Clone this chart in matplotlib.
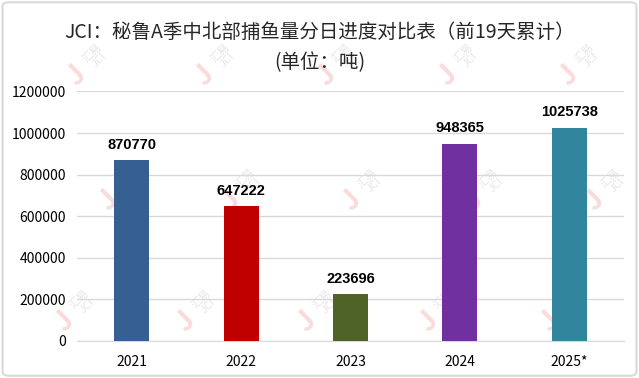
import matplotlib.pyplot as plt
from matplotlib.patches import FancyBboxPatch

plt.rcParams['font.family'] = ['Noto Sans CJK SC', 'DejaVu Sans']

years = ['2021', '2022', '2023', '2024', '2025*']
catch = [870770, 647222, 223696, 948365, 1025738]
colors = ['#376092', '#C00000', '#4F6228', '#7030A0', '#31859C']
yticks = [0, 200000, 400000, 600000, 800000, 1000000, 1200000]

fig = plt.figure(figsize=(6.39, 3.78), dpi=100)
ax = fig.add_axes([0.1205, 0.098, 0.856, 0.66])
ax.set_zorder(2)

# light frame round the whole picture
fig.patches.append(FancyBboxPatch((0.004, 0.006), 0.992, 0.988, boxstyle='round,pad=0,rounding_size=0.01',
                                  transform=fig.transFigure, fill=False, edgecolor='#D9D9D9', linewidth=1.5))

# faint watermarks
wm_pos = [(0.12, 0.80), (0.32, 0.80), (0.51, 0.80), (0.70, 0.80), (0.89, 0.80),
          (0.17, 0.47), (0.36, 0.47), (0.55, 0.47), (0.74, 0.47), (0.93, 0.47),
          (0.10, 0.15), (0.29, 0.15), (0.48, 0.15), (0.67, 0.15), (0.86, 0.15)]
for wx, wy in wm_pos:
    fig.text(wx, wy, 'J', color='#FBDADA', fontsize=20, rotation=45, ha='center', va='center',
             fontweight='bold', zorder=1)
    fig.text(wx + 0.03, wy + 0.05, '汇易\nJCI', color='#E6E6E6', fontsize=8, rotation=45,
             ha='center', va='center', zorder=1, linespacing=1.0)

x = range(len(years))
ax.bar(x, catch, width=0.32, color=colors, zorder=3)
for xi, v in zip(x, catch):
    ax.text(xi, v + 40000, str(v), ha='center', va='bottom', fontsize=10.5, fontweight='bold',
            family=['Liberation Sans'], zorder=4)

ax.set_ylim(0, 1200000)
ax.set_yticks(yticks)
ax.set_yticklabels([str(t) for t in yticks], fontsize=10)
ax.set_xticks(list(x))
ax.set_xticklabels(years, fontsize=10)
ax.set_xlim(-0.5, 4.5)
ax.grid(axis='y', color='#D9D9D9', linewidth=1, zorder=0)
for s in ['top', 'right', 'left']:
    ax.spines[s].set_visible(False)
ax.spines['bottom'].set_color('#D9D9D9')
ax.tick_params(length=0, pad=8)
ax.tick_params(axis='x', pad=10)
ax.patch.set_alpha(0)

fig.text(0.5, 0.915, 'JCI：秘鲁A季中北部捕鱼量分日进度对比表（前19天累计）', ha='center', va='center',
         fontsize=14, color='#262626')
fig.text(0.5, 0.835, '(单位：吨)', ha='center', va='center', fontsize=14, color='#262626')

fig.savefig('out.png', dpi=100)
